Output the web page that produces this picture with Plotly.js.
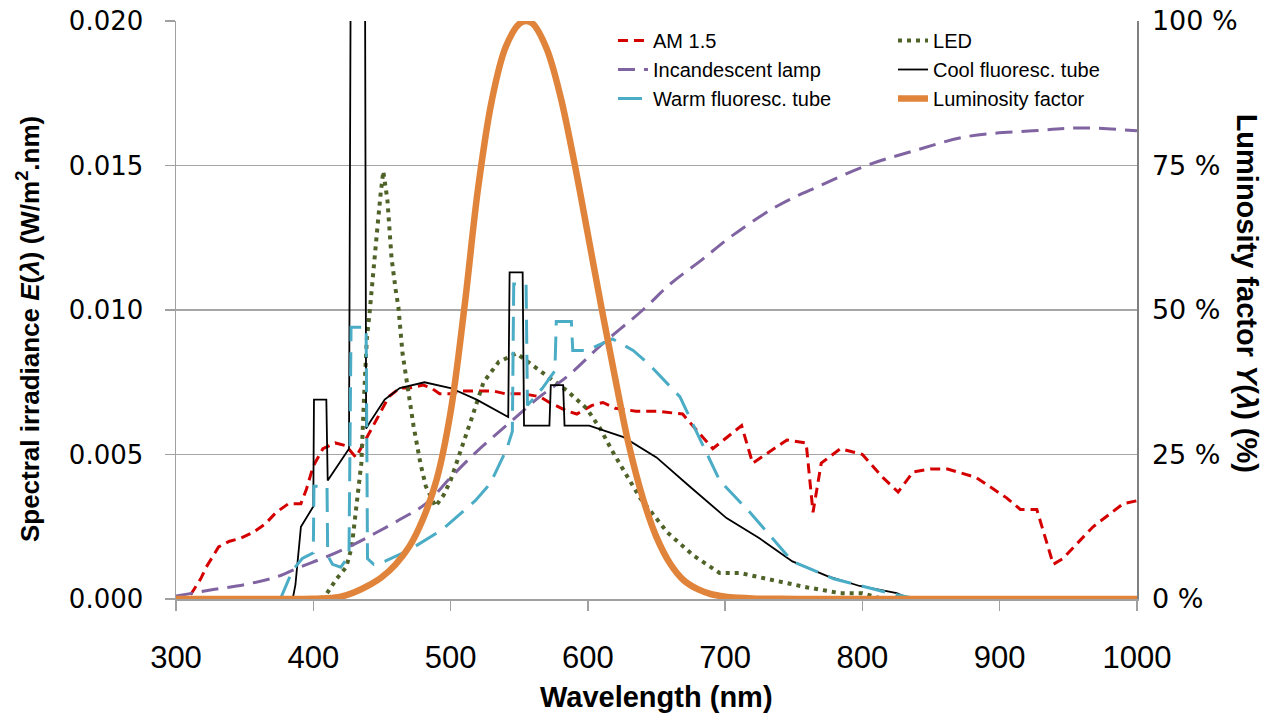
<!DOCTYPE html>
<html>
<head>
<meta charset="utf-8">
<script src="https://cdn.plot.ly/plotly-3.0.1.min.js"></script>
<style>html,body{margin:0;padding:0;background:#fff;}#chart{width:1279px;height:717px;}</style>
</head>
<body>
<div id="chart"></div>
<script>
// ---- Data ----
const am15X = [300,305,310,318,322,331,339,347,356,365,373,382,391,395,400,407,416,424,431,437,446,455,463,470,480,486,492,500,507,520,531,540,553,565,572,585,592,603,611,620,635,650,669,680,691,712,720,745,759,764,770,784,800,815,826,837,850,862,883,905,915,927,939,946,968,990,1000];
const am15Y = [0,0,0.0001,0.0007,0.0011,0.0018,0.0020,0.0021,0.0023,0.0026,0.0030,0.0033,0.0033,0.0038,0.0046,0.0052,0.0054,0.0053,0.0049,0.0054,0.0062,0.0070,0.0073,0.0073,0.0074,0.0073,0.0071,0.0071,0.0072,0.0072,0.0072,0.0071,0.0071,0.0070,0.0068,0.0065,0.0064,0.0067,0.0068,0.0066,0.0065,0.0065,0.0064,0.0058,0.0052,0.0060,0.0047,0.0055,0.0054,0.0030,0.0047,0.0052,0.0050,0.0042,0.0037,0.0044,0.0045,0.0045,0.0042,0.0035,0.0031,0.0031,0.0012,0.0014,0.0025,0.0033,0.0034];

const ledX = [405,410,417,424,428,431,435,437,439,441,444,447,449,451,454,457,460,462,465,468,473,478,482,489,495,500,509,515,524,535,548,565,585,599,609,618,638,658,677,696,711,730,760,784,800,815];
const ledY = [0,0.0002,0.0007,0.0011,0.0018,0.0030,0.0047,0.0070,0.0090,0.0099,0.0113,0.0130,0.0140,0.0148,0.0138,0.0118,0.0107,0.0101,0.0085,0.0075,0.0060,0.0047,0.0039,0.0032,0.0036,0.0041,0.0053,0.0062,0.0075,0.0082,0.0085,0.0079,0.0072,0.0066,0.0059,0.0051,0.0035,0.0023,0.0015,0.0009,0.0009,0.0007,0.0004,0.0002,0.0002,0];

const incX = [300,324,350,373,390,409,430,446,465,482,500,519,543,565,585,610,640,660,682,706,738,769,803,837,876,924,961,1000];
const incY = [0.0001,0.0003,0.0005,0.00076,0.0011,0.00145,0.0019,0.0023,0.0028,0.0033,0.0042,0.0051,0.0061,0.0070,0.0077,0.0088,0.0100,0.0109,0.0117,0.0126,0.0136,0.0143,0.0150,0.0155,0.0160,0.0162,0.0163,0.0162];

const coolX = [385,387,391,400,400.5,409.5,410.5,426,427.5,437.5,438.5,441,452,463,481,500,519,542,543,552.5,553.5,572,573,582,583,601,626,650,674,701,725,749,774,798,825,835];
const coolY = [0,0.0005,0.0025,0.0032,0.0069,0.0069,0.0041,0.0052,0.025,0.025,0.0059,0.0061,0.0069,0.0073,0.0075,0.0073,0.0069,0.0063,0.0113,0.0113,0.0060,0.0060,0.0074,0.0074,0.0060,0.0060,0.0056,0.0049,0.0039,0.0028,0.0021,0.0013,0.0008,0.00045,0.0002,0];

const warmX = [376,385,392,400,400.5,410,410.5,414,420,426,427.5,438.5,439.5,444,452,470,494,518,529,541,545,546,555,556,567,576,577,588,589,599,618,633,645,667,682,696,718,749,779,820,840];
const warmY = [0,0.0010,0.0014,0.0016,0.0039,0.0039,0.0015,0.0012,0.0011,0.0015,0.0094,0.0094,0.0014,0.0012,0.0013,0.0017,0.0024,0.0034,0.0040,0.0052,0.0058,0.0109,0.0109,0.0067,0.0073,0.0079,0.0096,0.0096,0.0086,0.0086,0.0090,0.0086,0.0081,0.0070,0.0055,0.0041,0.0030,0.0013,0.0007,0.0002,0];

const lumX = [300,370,380,390,400,410,420,430,440,450,460,470,480,490,500,510,520,530,540,550,555,560,570,580,590,600,610,620,630,640,650,660,670,680,690,700,710,720,730,740,760,780,1000];
const lumY = [0,0,0.004,0.012,0.04,0.12,0.4,1.16,2.3,3.8,6.0,9.1,13.9,20.8,32.3,50.3,71.0,86.2,95.4,99.5,100,99.5,95.2,87.0,75.7,63.1,50.3,38.1,26.5,17.5,10.7,6.1,3.2,1.7,0.82,0.41,0.21,0.1,0.05,0.025,0.006,0,0];

const names = ['AM 1.5','LED','Incandescent lamp','Cool fluoresc. tube','Warm fluoresc. tube','Luminosity factor'];
const xTicks = [300,400,500,600,700,800,900,1000];
const leftTicks = [0,0.005,0.010,0.015,0.020];
const rightTicks = [0,25,50,75,100];
const rightTickLabels = ['0 %','25 %','50 %','75 %','100 %'];

// ---- Chart ----
const sans = 'Liberation Sans, Arial, sans-serif';
const traces = [
  {x: am15X, y: am15Y, name: names[0], mode:'lines', line:{color:'#D40000', width:3, dash:'10px,6px'}, legend:'legend'},
  {x: ledX, y: ledY, name: names[1], mode:'lines', line:{color:'#4F6228', width:4, dash:'4px,5px'}, legend:'legend2'},
  {x: incX, y: incY, name: names[2], mode:'lines', line:{color:'#8064A2', width:3, dash:'17px,9px', shape:'spline'}, legend:'legend'},
  {x: coolX, y: coolY, name: names[3], mode:'lines', line:{color:'#000000', width:1.8}, legend:'legend2'},
  {x: warmX, y: warmY, name: names[4], mode:'lines', line:{color:'#4BACC6', width:3, dash:'24px,11px'}, legend:'legend'},
  {x: lumX, y: lumY, name: names[5], mode:'lines', yaxis:'y2', line:{color:'#E1843B', width:6.5, shape:'spline'}, legend:'legend2'}
];

const layout = {
  width: 1279, height: 717,
  margin: {l:176, r:142, t:21, b:118},
  paper_bgcolor:'#ffffff', plot_bgcolor:'#ffffff',
  showlegend: true,
  xaxis: {
    range:[300,1000], tickvals:xTicks,
    ticks:'outside', ticklen:10, tickcolor:'#A0A0A0', tickwidth:1.5,
    showline:true, linecolor:'#A0A0A0', linewidth:1.5, showgrid:false, zeroline:false,
    tickfont:{family:sans, size:31, color:'#000'}, ticklabelstandoff:20
  },
  yaxis: {
    range:[0,0.02], tickvals:leftTicks, tickformat:'.3f',
    ticks:'outside', ticklen:10, tickcolor:'#A0A0A0', tickwidth:1.5,
    showline:true, linecolor:'#A0A0A0', linewidth:1.5,
    showgrid:true, gridcolor:'#A6A6A6', gridwidth:1.5, zeroline:false,
    tickfont:{family:'DejaVu Sans, Verdana, sans-serif', size:26, color:'#000'}, ticklabelstandoff:16
  },
  yaxis2: {
    range:[0,100], tickvals:rightTicks, ticktext:rightTickLabels, overlaying:'y', side:'right',
    ticks:'', showline:true, linecolor:'#808080', linewidth:1.5, showgrid:false, zeroline:false,
    tickfont:{family:'DejaVu Sans, Verdana, sans-serif', size:27, color:'#000'}, ticklabelstandoff:8
  },
  legend: {x:0.4547, y:1.0, xanchor:'left', yanchor:'top', bgcolor:'rgba(255,255,255,0)', borderwidth:0,
    font:{family:sans, size:20, color:'#000'}, traceorder:'normal', tracegroupgap:0},
  legend2: {x:0.7461, y:1.0, xanchor:'left', yanchor:'top', bgcolor:'rgba(255,255,255,0)', borderwidth:0,
    font:{family:sans, size:20, color:'#000'}, traceorder:'normal', tracegroupgap:0},
  annotations: [
    {text:'<b>Wavelength (nm)</b>', xref:'paper', yref:'paper', x:0.5005, y:-0.1696, xanchor:'center', yanchor:'middle', showarrow:false,
     font:{family:sans, size:29, color:'#000'}},
    {text:'<b>Spectral irradiance <i>E</i>(<i>λ</i>) (W/m<sup>2</sup>.nm)</b>', xref:'paper', yref:'paper', x:-0.154, y:0.467, textangle:-90, xanchor:'center', yanchor:'middle', showarrow:false,
     font:{family:sans, size:26, color:'#000'}},
    {text:'<b>Luminosity factor <i>Y</i>(<i>λ</i>) (%)</b>', xref:'paper', yref:'paper', x:1.1145, y:0.53, textangle:90, xanchor:'center', yanchor:'middle', showarrow:false,
     font:{family:sans, size:29, color:'#000'}}
  ]
};

Plotly.newPlot('chart', traces, layout, {displayModeBar:false, staticPlot:true});
</script>
</body>
</html>
